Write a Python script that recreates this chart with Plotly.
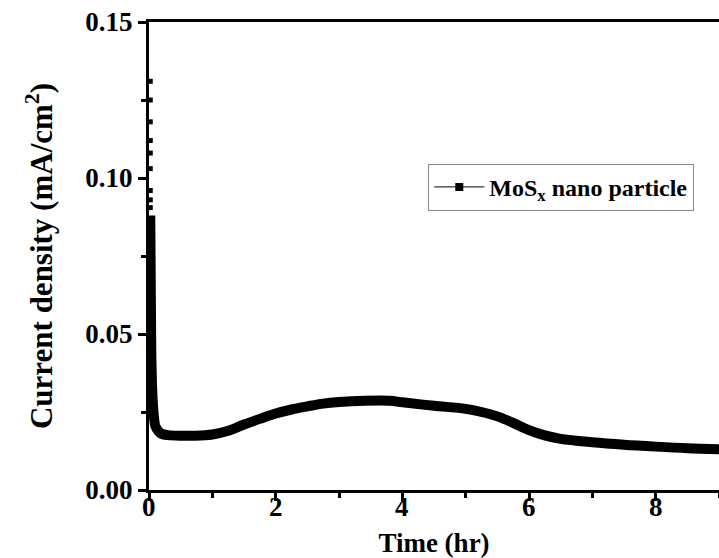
import plotly.graph_objects as go

# Time (hr) and current density (mA/cm^2)
time_hr = [0.02, 0.03, 0.04, 0.06, 0.08, 0.1, 0.15, 0.2, 0.3, 0.5, 0.7, 1.0, 1.25, 1.5, 1.75,
           2.0, 2.25, 2.5, 2.75, 3.0, 3.4, 3.8, 4.0, 4.5, 5.0, 5.25, 5.5, 5.75, 6.0,
           6.25, 6.5, 7.0, 7.5, 8.0, 8.5, 9.0]
current = [0.088, 0.060, 0.040, 0.028, 0.023, 0.0205, 0.0188, 0.0180, 0.0176, 0.0174, 0.0174,
           0.0178, 0.0190, 0.0210, 0.0228, 0.0245, 0.0258, 0.0268, 0.0277, 0.0282, 0.0286,
           0.0286, 0.0281, 0.0270, 0.0260, 0.0250, 0.0236, 0.0215, 0.0192, 0.0175, 0.0164,
           0.0153, 0.0145, 0.0139, 0.0134, 0.0131]

# scattered initial spikes near t = 0
spike_t = [0.02, 0.02, 0.02, 0.02, 0.02, 0.02, 0.02, 0.02, 0.02, 0.02]
spike_j = [0.131, 0.125, 0.118, 0.112, 0.108, 0.103, 0.096, 0.093, 0.0905, 0.065]

x_ticks = [0, 2, 4, 6, 8]
x_tick_labels = ["0", "2", "4", "6", "8"]

series_name = "MoS<sub>x</sub> nano particle"

FONT = "Liberation Serif"

fig = go.Figure()
fig.add_trace(go.Scatter(x=time_hr, y=current, mode="lines",
                         line=dict(color="black", width=10, shape="spline"),
                         showlegend=False))
fig.add_trace(go.Scatter(x=spike_t, y=spike_j, mode="markers",
                         marker=dict(symbol="square", size=5, color="black"),
                         showlegend=False))
fig.add_trace(go.Scatter(x=[None], y=[None], mode="lines+markers", name=series_name,
                         line=dict(color="black", width=1),
                         marker=dict(symbol="square", size=8, color="black")))

axis_common = dict(
    showgrid=False, zeroline=False, showline=True, linecolor="black", linewidth=3,
    ticks="outside", ticklen=8, tickwidth=3, tickcolor="black",
    tickfont=dict(family=FONT, size=27, color="black", weight="bold"),
)

fig.update_xaxes(range=[0, 9], tickvals=x_ticks, ticktext=x_tick_labels, mirror=True,
                 showticklabels=False,
                 minor=dict(dtick=1, ticks="outside", ticklen=5, tickwidth=3, tickcolor="black"),
                 title=dict(text="<b>Time (hr)</b>", font=dict(family=FONT, size=27, color="black"),
                            standoff=36),
                 **axis_common)
fig.update_yaxes(range=[0, 0.15], dtick=0.05, tick0=0, tickformat=".2f",
                 minor=dict(dtick=0.025, ticks="outside", ticklen=5, tickwidth=3, tickcolor="black"),
                 title=dict(text="<b>Current density (mA/cm<sup>2</sup>)</b>",
                            font=dict(family=FONT, size=31, color="black"), standoff=24),
                 **axis_common)

# x tick labels placed directly under the tick marks
for xv, lab in zip(x_ticks, x_tick_labels):
    fig.add_annotation(x=xv, y=0, xref="x", yref="paper", text=f"<b>{lab}</b>",
                       showarrow=False, yanchor="top", yshift=0,
                       font=dict(family=FONT, size=27, color="black"))

fig.update_layout(
    width=719, height=558,
    margin=dict(l=149, r=0, t=22, b=68),
    paper_bgcolor="white", plot_bgcolor="white",
    font=dict(family=FONT, color="black"),
    legend=dict(x=0.49, y=0.697, xanchor="left", yanchor="top",
                bordercolor="#888888", borderwidth=1, bgcolor="white",
                font=dict(family=FONT, size=24, color="black", weight="bold"),
                itemwidth=50),
)

fig.write_html("out.html")
